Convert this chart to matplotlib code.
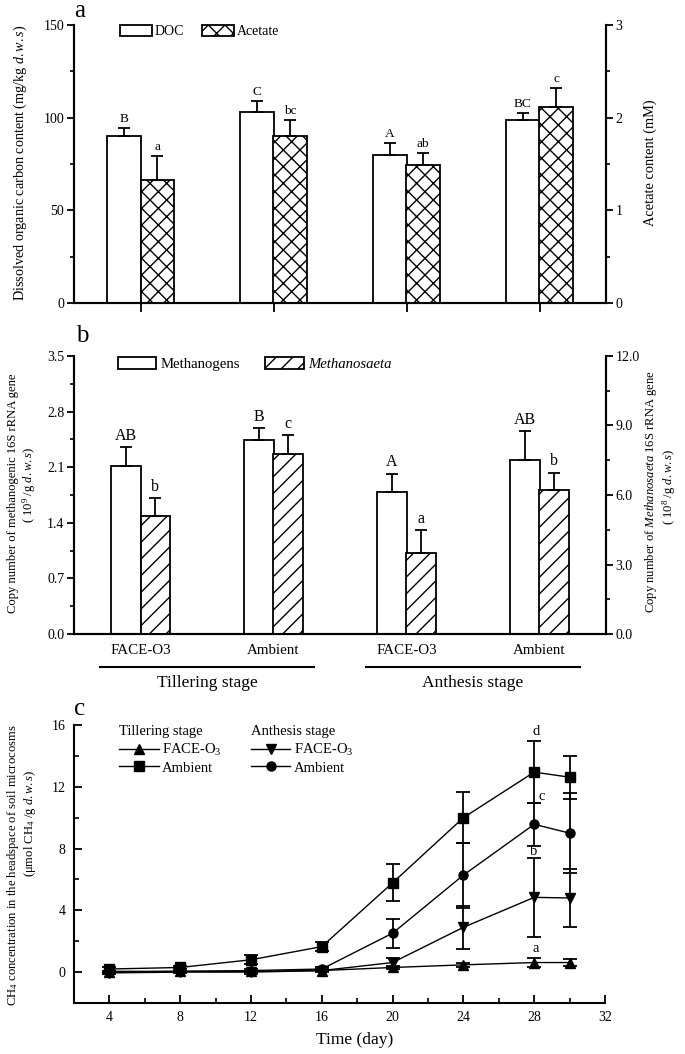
import matplotlib
matplotlib.use('Agg')
import matplotlib.pyplot as plt
import numpy as np
from matplotlib.ticker import MultipleLocator, FormatStrFormatter

plt.rcParams['font.family'] = ['Liberation Serif', 'DejaVu Serif']
plt.rcParams['mathtext.fontset'] = 'custom'
plt.rcParams['mathtext.rm'] = 'Liberation Serif'
plt.rcParams['mathtext.it'] = 'Liberation Serif:italic'
plt.rcParams['mathtext.bf'] = 'Liberation Serif:bold'
plt.rcParams['hatch.linewidth'] = 1.0

# ---------------- data ----------------
groups = ['FACE-O3', 'Ambient', 'FACE-O3', 'Ambient']
stages = ['Tillering stage', 'Anthesis stage']

doc = [90.3, 102.9, 79.9, 98.9]
doc_err = [4.0, 6.1, 6.4, 3.8]
doc_letters = ['B', 'C', 'A', 'BC']
acetate = [1.33, 1.80, 1.49, 2.12]
acetate_err = [0.26, 0.18, 0.13, 0.20]
acetate_letters = ['a', 'bc', 'ab', 'c']

methanogens = [2.12, 2.44, 1.79, 2.19]
methanogens_err = [0.23, 0.15, 0.23, 0.36]
methanogens_letters = ['AB', 'B', 'A', 'AB']
methanosaeta = [5.10, 7.78, 3.49, 6.22]
methanosaeta_err = [0.75, 0.79, 0.98, 0.74]
methanosaeta_letters = ['b', 'c', 'a', 'b']

days = [4, 8, 12, 16, 20, 24, 28, 30]
till_face = [0.0, 0.05, 0.05, 0.1, 0.3, 0.47, 0.62, 0.62]
till_face_err = [0.05, 0.05, 0.05, 0.05, 0.1, 0.15, 0.3, 0.25]
till_amb = [0.2, 0.3, 0.8, 1.65, 5.78, 10.0, 12.95, 12.62]
till_amb_err = [0.1, 0.1, 0.3, 0.3, 1.2, 1.65, 2.0, 1.4]
anth_face = [-0.05, 0.0, 0.0, 0.1, 0.62, 2.9, 4.84, 4.8]
anth_face_err = [0.05, 0.05, 0.1, 0.1, 0.3, 1.4, 2.55, 1.9]
anth_amb = [0.05, 0.05, 0.1, 0.2, 2.52, 6.28, 9.57, 9.0]
anth_amb_err = [0.05, 0.05, 0.1, 0.1, 0.95, 2.1, 1.4, 2.6]
c_letters = ['d', 'c', 'b', 'a']
c_letter_x = [28.1, 28.45, 27.95, 28.1]
c_letter_y = [15.6, 11.4, 7.8, 1.55]

W, H = 685, 1054
fig = plt.figure(figsize=(W / 100, H / 100), dpi=100)


def fx(px):
    return px / W


def fy(py):
    return 1 - py / H


def style_bar_axes(ax, ax2):
    for a in (ax, ax2):
        a.spines['top'].set_visible(False)
        for s in ('left', 'right', 'bottom'):
            a.spines[s].set_linewidth(1.5)
    ax.tick_params(axis='y', which='major', direction='out', length=5, width=1.3, labelsize=10, pad=2)
    ax.tick_params(axis='y', which='minor', direction='out', length=3, width=1.2)
    ax2.tick_params(axis='y', which='major', direction='out', length=5, width=1.3, labelsize=10, pad=2)
    ax2.tick_params(axis='y', which='minor', direction='out', length=3, width=1.2)


ekw = dict(elinewidth=1.3, capthick=1.3, ecolor='black')
x = np.arange(1, 5)

# ---------------- panel a ----------------
axA = fig.add_axes([fx(74), fy(303), fx(606) - fx(74), fy(25) - fy(303)])
axA2 = axA.twinx()
w = 0.25
bA1 = axA.bar(x - w / 2, doc, w, color='white', edgecolor='black', linewidth=1.3,
              yerr=[np.zeros(4), doc_err], capsize=4, error_kw=ekw, zorder=2)
bA2 = axA2.bar(x + w / 2, acetate, w, color='white', edgecolor='black', linewidth=1.3,
               hatch='xx', yerr=[np.zeros(4), acetate_err], capsize=4, error_kw=ekw, zorder=2)
axA.set_xlim(0.5, 4.5)
axA.set_ylim(0, 150)
axA2.set_ylim(0, 3)
axA.set_xticks(x)
axA.set_xticklabels([''] * 4)
axA.yaxis.set_major_locator(MultipleLocator(50))
axA.yaxis.set_minor_locator(MultipleLocator(25))
axA2.yaxis.set_major_locator(MultipleLocator(1))
axA2.yaxis.set_minor_locator(MultipleLocator(0.5))
style_bar_axes(axA, axA2)
axA.tick_params(axis='x', direction='out', length=6.5, width=1.3)
for xi, v, e, t in zip(x, doc, doc_err, doc_letters):
    axA.text(xi - w / 2, v + e + 1.5, t, ha='center', va='bottom', fontsize=9.5)
for xi, v, e, t in zip(x, acetate, acetate_err, acetate_letters):
    axA2.text(xi + w / 2, v + e + 0.03, t, ha='center', va='bottom', fontsize=9.5)
axA2.legend([bA1, bA2], ['DOC', 'Acetate'], loc='upper left', bbox_to_anchor=(0.086, 1.0),
            ncol=2, frameon=False, fontsize=10, handlelength=2.3, handleheight=0.8,
            handletextpad=0.2, columnspacing=1.3, borderaxespad=0, borderpad=0)
fig.text(fx(80), fy(11), 'a', fontsize=18, ha='center', va='center')
fig.text(fx(20), fy(163), 'Dissolved organic carbon content (mg/kg $d.w.s$)', rotation=90,
         ha='center', va='center', fontsize=10.2)
fig.text(fx(650), fy(163), 'Acetate content (mM)', rotation=90, ha='center', va='center', fontsize=10.4)

# ---------------- panel b ----------------
axB = fig.add_axes([fx(74), fy(634), fx(606) - fx(74), fy(356) - fy(634)])
axB2 = axB.twinx()
wb = 0.22
bB1 = axB.bar(x - wb / 2, methanogens, wb, color='white', edgecolor='black', linewidth=1.3,
              yerr=[np.zeros(4), methanogens_err], capsize=4, error_kw=ekw, zorder=2)
bB2 = axB2.bar(x + wb / 2, methanosaeta, wb, color='white', edgecolor='black', linewidth=1.3,
               hatch='//', yerr=[np.zeros(4), methanosaeta_err], capsize=4, error_kw=ekw, zorder=2)
axB.set_xlim(0.5, 4.5)
axB.set_ylim(0, 3.5)
axB2.set_ylim(0, 12)
axB.set_xticks(x)
axB.set_xticklabels(groups)
axB.yaxis.set_major_locator(MultipleLocator(0.7))
axB.yaxis.set_minor_locator(MultipleLocator(0.35))
axB.yaxis.set_major_formatter(FormatStrFormatter('%.1f'))
axB2.yaxis.set_major_locator(MultipleLocator(3))
axB2.yaxis.set_minor_locator(MultipleLocator(1.5))
axB2.yaxis.set_major_formatter(FormatStrFormatter('%.1f'))
style_bar_axes(axB, axB2)
axB.tick_params(axis='x', length=0, pad=7, labelsize=10.8)
for xi, v, e, t in zip(x, methanogens, methanogens_err, methanogens_letters):
    axB.text(xi - wb / 2, v + e + 0.04, t, ha='center', va='bottom', fontsize=11.5)
for xi, v, e, t in zip(x, methanosaeta, methanosaeta_err, methanosaeta_letters):
    axB2.text(xi + wb / 2, v + e + 0.15, t, ha='center', va='bottom', fontsize=11.5)
legB = axB2.legend([bB1, bB2], ['Methanogens', 'Methanosaeta'], loc='upper left',
                   bbox_to_anchor=(0.083, 0.998), ncol=2, frameon=False, fontsize=10.6,
                   handlelength=2.6, handleheight=0.9, handletextpad=0.3, columnspacing=1.7,
                   borderaxespad=0, borderpad=0)
legB.get_texts()[1].set_fontstyle('italic')
trB = axB.get_xaxis_transform()
for (x0, x1), name in zip([(0.695, 2.305), (2.695, 4.305)], stages):
    axB.plot([x0, x1], [-0.119, -0.119], color='black', lw=1.5, transform=trB, clip_on=False)
    axB.text((x0 + x1) / 2, -0.175, name, transform=trB, ha='center', va='center', fontsize=12.5)
fig.text(fx(82), fy(336), 'b', fontsize=18, ha='center', va='center')
fig.text(fx(13), fy(493), 'Copy number of methanogenic 16S rRNA gene', rotation=90,
         ha='center', va='center', fontsize=9.1)
fig.text(fx(29), fy(485), '( 10$^{9}$ /g $d.w.s$)', rotation=90, ha='center', va='center', fontsize=9.1)
fig.text(fx(651), fy(492), 'Copy number of $Methanosaeta$ 16S rRNA gene', rotation=90,
         ha='center', va='center', fontsize=9.1)
fig.text(fx(669), fy(487), '( 10$^{8}$ /g $d.w.s$)', rotation=90, ha='center', va='center', fontsize=9.1)

# ---------------- panel c ----------------
axC = fig.add_axes([fx(74), fy(1003), fx(605) - fx(74), fy(725) - fy(1003)])
common = dict(color='black', lw=1.0, ms=6.5, capsize=5, elinewidth=1.3, capthick=1.3)
eTF = axC.errorbar(days, till_face, yerr=till_face_err, marker='^', **common)
eTA = axC.errorbar(days, till_amb, yerr=till_amb_err, marker='s', **common)
eAF = axC.errorbar(days, anth_face, yerr=anth_face_err, marker='v', **common)
eAA = axC.errorbar(days, anth_amb, yerr=anth_amb_err, marker='o', **common)
axC.set_xlim(2, 32)
axC.set_ylim(-2, 16)
axC.xaxis.set_major_locator(MultipleLocator(4))
axC.xaxis.set_minor_locator(MultipleLocator(2))
axC.yaxis.set_major_locator(MultipleLocator(4))
axC.yaxis.set_minor_locator(MultipleLocator(2))
axC.spines['top'].set_visible(False)
axC.spines['right'].set_visible(False)
for s in ('left', 'bottom'):
    axC.spines[s].set_linewidth(1.5)
axC.tick_params(axis='both', which='major', direction='in', length=6, width=1.3, labelsize=10, pad=6)
axC.tick_params(axis='both', which='minor', direction='in', length=3.5, width=1.2)
for t, lx, ly in zip(c_letters, c_letter_x, c_letter_y):
    axC.text(lx, ly, t, ha='center', va='center', fontsize=10.5)
legC1 = axC.legend([eTF.lines[0], eTA.lines[0]], ['FACE-O$_3$', 'Ambient'], title='Tillering stage',
                   loc='upper left', bbox_to_anchor=(0.085, 1.0), frameon=False, fontsize=10.5,
                   title_fontsize=10.5, alignment='left', handlelength=2.7, handletextpad=0.25,
                   labelspacing=0.25, borderaxespad=0, borderpad=0)
axC.add_artist(legC1)
legC2 = axC.legend([eAF.lines[0], eAA.lines[0]], ['FACE-O$_3$', 'Ambient'], title='Anthesis stage',
                   loc='upper left', bbox_to_anchor=(0.333, 1.0), frameon=False, fontsize=10.5,
                   title_fontsize=10.5, alignment='left', handlelength=2.7, handletextpad=0.25,
                   labelspacing=0.25, borderaxespad=0, borderpad=0)
fig.text(fx(355), fy(1040), 'Time (day)', ha='center', va='center', fontsize=12.5)
fig.text(fx(80), fy(709), 'c', fontsize=18, ha='center', va='center')
fig.text(fx(13), fy(865), 'CH$_4$ concentration in the headspace of soil microcosms', rotation=90,
         ha='center', va='center', fontsize=9.1)
fig.text(fx(30), fy(823), '(\u03bcmol CH$_4$ /g $d.w.s$)', rotation=90, ha='center', va='center',
         fontsize=9.1)

fig.savefig('out.png', dpi=100)
